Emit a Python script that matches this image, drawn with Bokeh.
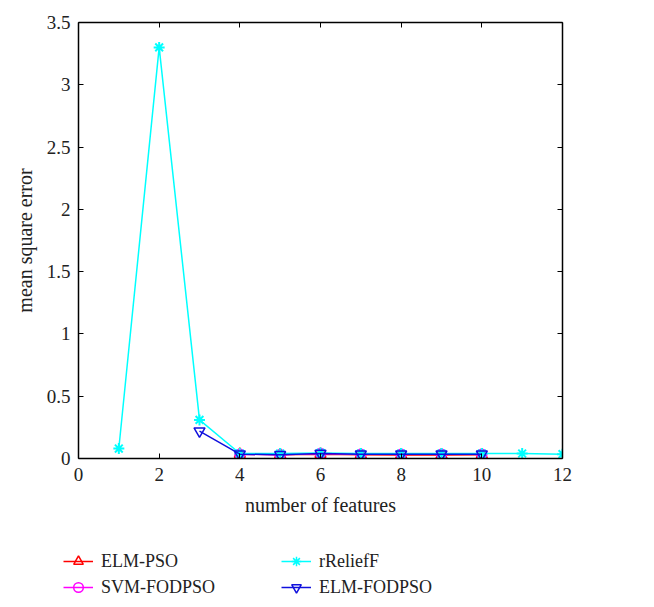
from bokeh.plotting import figure
from bokeh.layouts import column
from bokeh.models import Range1d, LinearAxis, Legend, LegendItem, FixedTicker
from bokeh.embed import file_html
from bokeh.resources import INLINE

# data
elm_pso_x = [4, 5, 6, 7, 8, 9, 10]
elm_pso_y = [0.035, 0.03, 0.035, 0.03, 0.028, 0.028, 0.03]
svm_fodpso_x = [4, 5, 6, 7, 8, 9, 10]
svm_fodpso_y = [0.035, 0.03, 0.04, 0.035, 0.035, 0.035, 0.035]
rrelieff_x = [1, 2, 3, 4, 5, 6, 7, 8, 9, 10, 11, 12]
rrelieff_y = [0.08, 3.3, 0.31, 0.04, 0.04, 0.045, 0.04, 0.04, 0.04, 0.04, 0.04, 0.035]
elm_fodpso_x = [3, 4, 5, 6, 7, 8, 9, 10]
elm_fodpso_y = [0.22, 0.035, 0.03, 0.04, 0.035, 0.035, 0.035, 0.035]
series_names = ["ELM-PSO", "SVM-FODPSO", "rReliefF", "ELM-FODPSO"]
x_ticks = [0, 2, 4, 6, 8, 10, 12]
y_ticks = [0, 0.5, 1, 1.5, 2, 2.5, 3, 3.5]

FONT = "Liberation Serif"
TXT = "#222222"
STYLES = [
    dict(color="red", marker="triangle", size=11, fill=None),
    dict(color="magenta", marker="circle", size=10, fill=None),
    dict(color="cyan", marker="asterisk", size=11, fill=None),
    dict(color="#1010dd", marker="inverted_triangle", size=11, fill=None),
]

p = figure(width=646, height=530, output_backend="svg", toolbar_location=None,
           x_range=Range1d(0, 12), y_range=Range1d(0, 3.5),
           min_border_left=78, min_border_right=84, min_border_top=22, min_border_bottom=72)
p.grid.visible = False
p.outline_line_color = None

def style_axis(ax, labels=True):
    ax.axis_line_color = "black"
    ax.axis_line_width = 1.5
    ax.major_tick_in = 5
    ax.major_tick_out = 0
    ax.minor_tick_in = 0
    ax.minor_tick_out = 0
    ax.major_tick_line_color = "black"
    ax.major_label_text_font = FONT
    ax.major_label_text_font_size = "19px"
    ax.major_label_text_color = TXT
    ax.axis_label_text_font = FONT
    ax.axis_label_text_font_size = "20px"
    ax.axis_label_text_font_style = "normal"
    ax.axis_label_text_color = TXT
    if not labels:
        ax.major_label_text_alpha = 0
        ax.major_label_text_font_size = "1px"
        ax.major_label_standoff = 0

p.xaxis.ticker = FixedTicker(ticks=x_ticks)
p.yaxis.ticker = FixedTicker(ticks=y_ticks)
p.xaxis.axis_label = "number of features"
p.yaxis.axis_label = "mean square error"
style_axis(p.xaxis[0])
style_axis(p.yaxis[0])
p.xaxis.major_label_standoff = 9
p.xaxis.axis_label_standoff = 10
p.yaxis.major_label_standoff = 8
p.yaxis.axis_label_standoff = 8

top = LinearAxis(ticker=FixedTicker(ticks=x_ticks))
style_axis(top, labels=False)
p.add_layout(top, "above")
right = LinearAxis(ticker=FixedTicker(ticks=y_ticks))
style_axis(right, labels=False)
p.add_layout(right, "right")

data = [(elm_pso_x, elm_pso_y), (svm_fodpso_x, svm_fodpso_y),
        (rrelieff_x, rrelieff_y), (elm_fodpso_x, elm_fodpso_y)]
for (xs, ys), st in zip(data, STYLES):
    p.line(xs, ys, color=st["color"], line_width=1.5)
    p.scatter(xs, ys, marker=st["marker"], size=st["size"], line_color=st["color"],
              fill_color=st["fill"], line_width=2 if st["marker"] == "asterisk" else 1.5)

# legend figure below the plot (renderers hold no visible data, only styles)
nan = float("nan")
lf = figure(width=646, height=77, output_backend="svg", toolbar_location=None,
            x_range=Range1d(0, 1), y_range=Range1d(0, 1),
            min_border_left=0, min_border_right=0, min_border_top=0, min_border_bottom=0)
lf.frame_align = False
lf.axis.visible = False
lf.grid.visible = False
lf.outline_line_color = None
items = []
for name, st in zip(series_names, STYLES):
    rl = lf.line([nan], [nan], color=st["color"], line_width=1.5)
    rm = lf.scatter([nan], [nan], marker=st["marker"], size=st["size"],
                    line_color=st["color"], fill_color=st["fill"], line_width=1.5)
    items.append(LegendItem(label=name, renderers=[rl, rm]))

legend = Legend(items=items, ncols=2, location=(63, 8))
legend.border_line_color = None
legend.background_fill_alpha = 0
legend.label_text_font = FONT
legend.label_text_font_size = "18px"
legend.label_text_color = TXT
legend.glyph_width = 30
legend.glyph_height = 24
legend.label_standoff = 8
legend.label_width = 178
legend.label_height = 20
legend.spacing = 2
legend.padding = 0
legend.margin = 0
lf.add_layout(legend, "center")

layout = column(p, lf, spacing=0)
open("out.html", "w").write(file_html(layout, INLINE))
